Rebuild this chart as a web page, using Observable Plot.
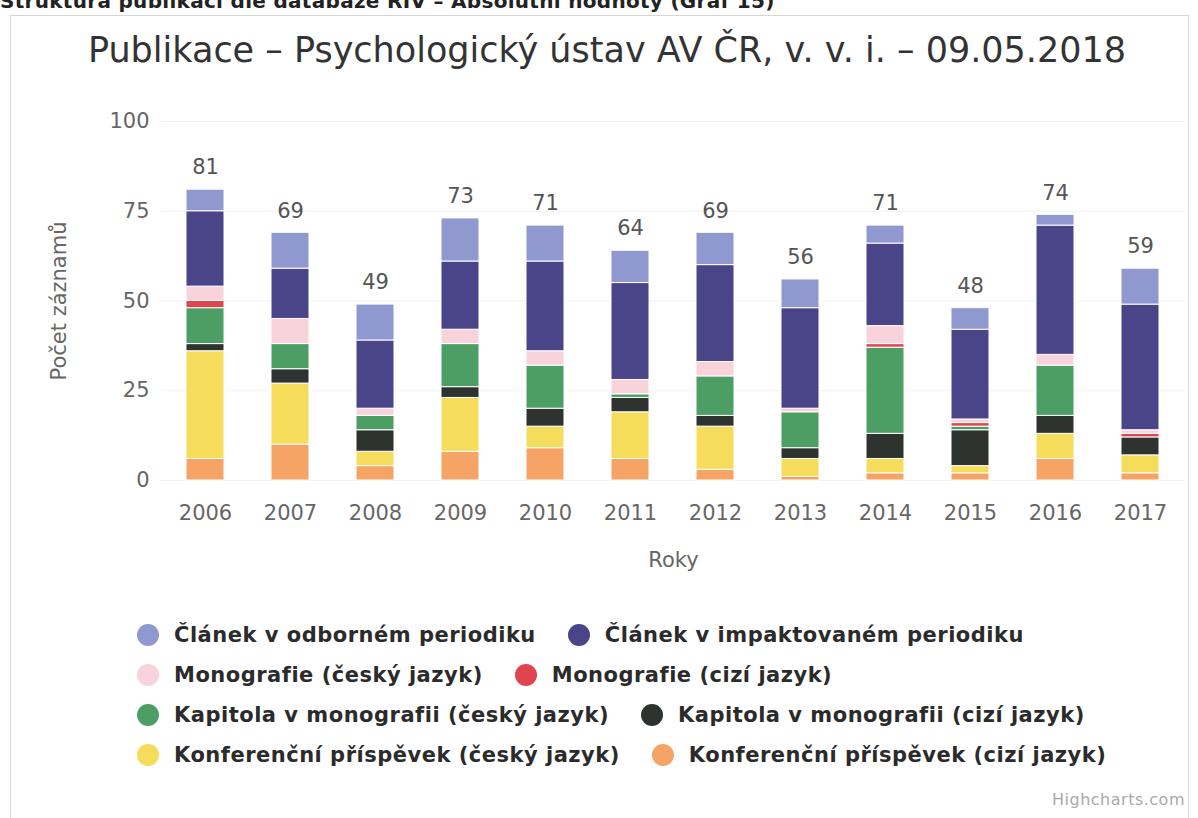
<!DOCTYPE html>
<html><head><meta charset="utf-8">
<script src="https://cdn.jsdelivr.net/npm/d3@7"></script>
<script src="https://cdn.jsdelivr.net/npm/@observablehq/plot@0.6"></script>
<style>
body{margin:0;background:#fff;width:1198px;height:818px;overflow:hidden;position:relative;font-family:"DejaVu Sans",sans-serif;}
#frame{position:absolute;left:10px;top:15px;width:1177px;height:803px;border:1px solid #d6d6d6;border-bottom:none;}
#heading{position:absolute;left:0;top:-11px;font-weight:bold;font-size:20px;line-height:24px;color:#222;white-space:nowrap;letter-spacing:0.3px;}
#title{position:absolute;left:8px;width:1198px;top:28px;text-align:center;font-size:35px;line-height:44px;color:#333;white-space:nowrap;}
#chart{position:absolute;left:0;top:100px;}
#legend{position:absolute;left:137px;top:615px;}
.row{display:flex;align-items:center;height:40px;}
.item{display:flex;align-items:center;margin-right:32px;font-weight:bold;font-size:21px;letter-spacing:0.5px;color:#2b2b2b;white-space:nowrap;}
.dot{width:22px;height:22px;border-radius:50%;margin-right:15px;}
#credits{position:absolute;right:13px;top:790px;font-size:16px;letter-spacing:0.5px;color:#aaa;}
</style>
</head><body>
<div id="frame"></div>
<div id="heading">Struktura publikací dle databáze RIV – Absolutní hodnoty (Graf 15)</div>
<div id="title">Publikace – Psychologický ústav AV ČR, v. v. i. – 09.05.2018</div>
<div id="chart"></div>
<div id="legend"></div>
<div id="credits">Highcharts.com</div>
<script>
const years = ["2006","2007","2008","2009","2010","2011","2012","2013","2014","2015","2016","2017"];
const seriesNames = [
  "Článek v odborném periodiku",
  "Článek v impaktovaném periodiku",
  "Monografie (český jazyk)",
  "Monografie (cizí jazyk)",
  "Kapitola v monografii (český jazyk)",
  "Kapitola v monografii (cizí jazyk)",
  "Konferenční příspěvek (český jazyk)",
  "Konferenční příspěvek (cizí jazyk)"
];
const colors = ["#9098d0","#4a4488","#f9d3dc","#e0454f","#4d9e64","#2f3330","#f5dc5a","#f5a465"];
const clanekOdborny  = [6,10,10,12,10,9,9,8,5,6,3,10];
const clanekImpakt   = [21,14,19,19,25,27,27,28,23,25,36,35];
const monografieCz   = [4,7,2,4,4,4,4,1,5,1,3,1];
const monografieCizi = [2,0,0,0,0,0,0,0,1,1,0,1];
const kapitolaCz     = [10,7,4,12,12,1,11,10,24,1,14,0];
const kapitolaCizi   = [2,4,6,3,5,4,3,3,7,10,5,5];
const konferenceCz   = [30,17,4,15,6,13,12,5,4,2,7,5];
const konferenceCizi = [6,10,4,8,9,6,3,1,2,2,6,2];
const yTicks = [0,25,50,75,100];

const seriesValues = [clanekOdborny, clanekImpakt, monografieCz, monografieCizi, kapitolaCz, kapitolaCizi, konferenceCz, konferenceCizi];
// stack bottom-to-top: last series at the bottom
const data = [];
for (let s = seriesNames.length - 1; s >= 0; s--) {
  years.forEach((yr, i) => {
    data.push({year: yr, series: seriesNames[s], value: seriesValues[s][i]});
  });
}
const nonZero = data.filter(d => d.value > 0);

const chart = Plot.plot({
  width: 1198, height: 480,
  marginTop: 21, marginBottom: 100, marginLeft: 161, marginRight: 13,
  style: {fontFamily: "DejaVu Sans", fontSize: "21px", color: "#666", background: "transparent"},
  x: {domain: years, paddingInner: 0.55, paddingOuter: 0.275},
  y: {domain: [0, 100]},
  color: {domain: seriesNames, range: colors},
  marks: [
    Plot.gridY(yTicks, {stroke: "#e6e6e6", strokeOpacity: 0.5}),
    Plot.axisY({ticks: yTicks, tickSize: 0, tickPadding: 12, fontSize: 21, label: "Počet záznamů", labelAnchor: "center", labelOffset: 110, labelArrow: "none"}),
    Plot.axisX({tickSize: 0, tickPadding: 25, fontSize: 21, label: "Roky", labelAnchor: "center", labelOffset: 86, labelArrow: "none"}),
    Plot.barY(nonZero, {x: "year", y: "value", fill: "series", stroke: "white", strokeWidth: 1}),
    Plot.text(data, Plot.groupX({y: "sum", text: "sum"}, {x: "year", y: "value", text: "value", dy: -22, fontSize: 21, fill: "#555"}))
  ]
});
document.getElementById("chart").appendChild(chart);

const legend = document.getElementById("legend");
for (let r = 0; r < 4; r++) {
  const row = document.createElement("div");
  row.className = "row";
  for (let c = 0; c < 2; c++) {
    const k = r * 2 + c;
    const item = document.createElement("div");
    item.className = "item";
    const dot = document.createElement("span");
    dot.className = "dot";
    dot.style.background = colors[k];
    const label = document.createElement("span");
    label.textContent = seriesNames[k];
    item.appendChild(dot);
    item.appendChild(label);
    row.appendChild(item);
  }
  legend.appendChild(row);
}
</script>
</body></html>
